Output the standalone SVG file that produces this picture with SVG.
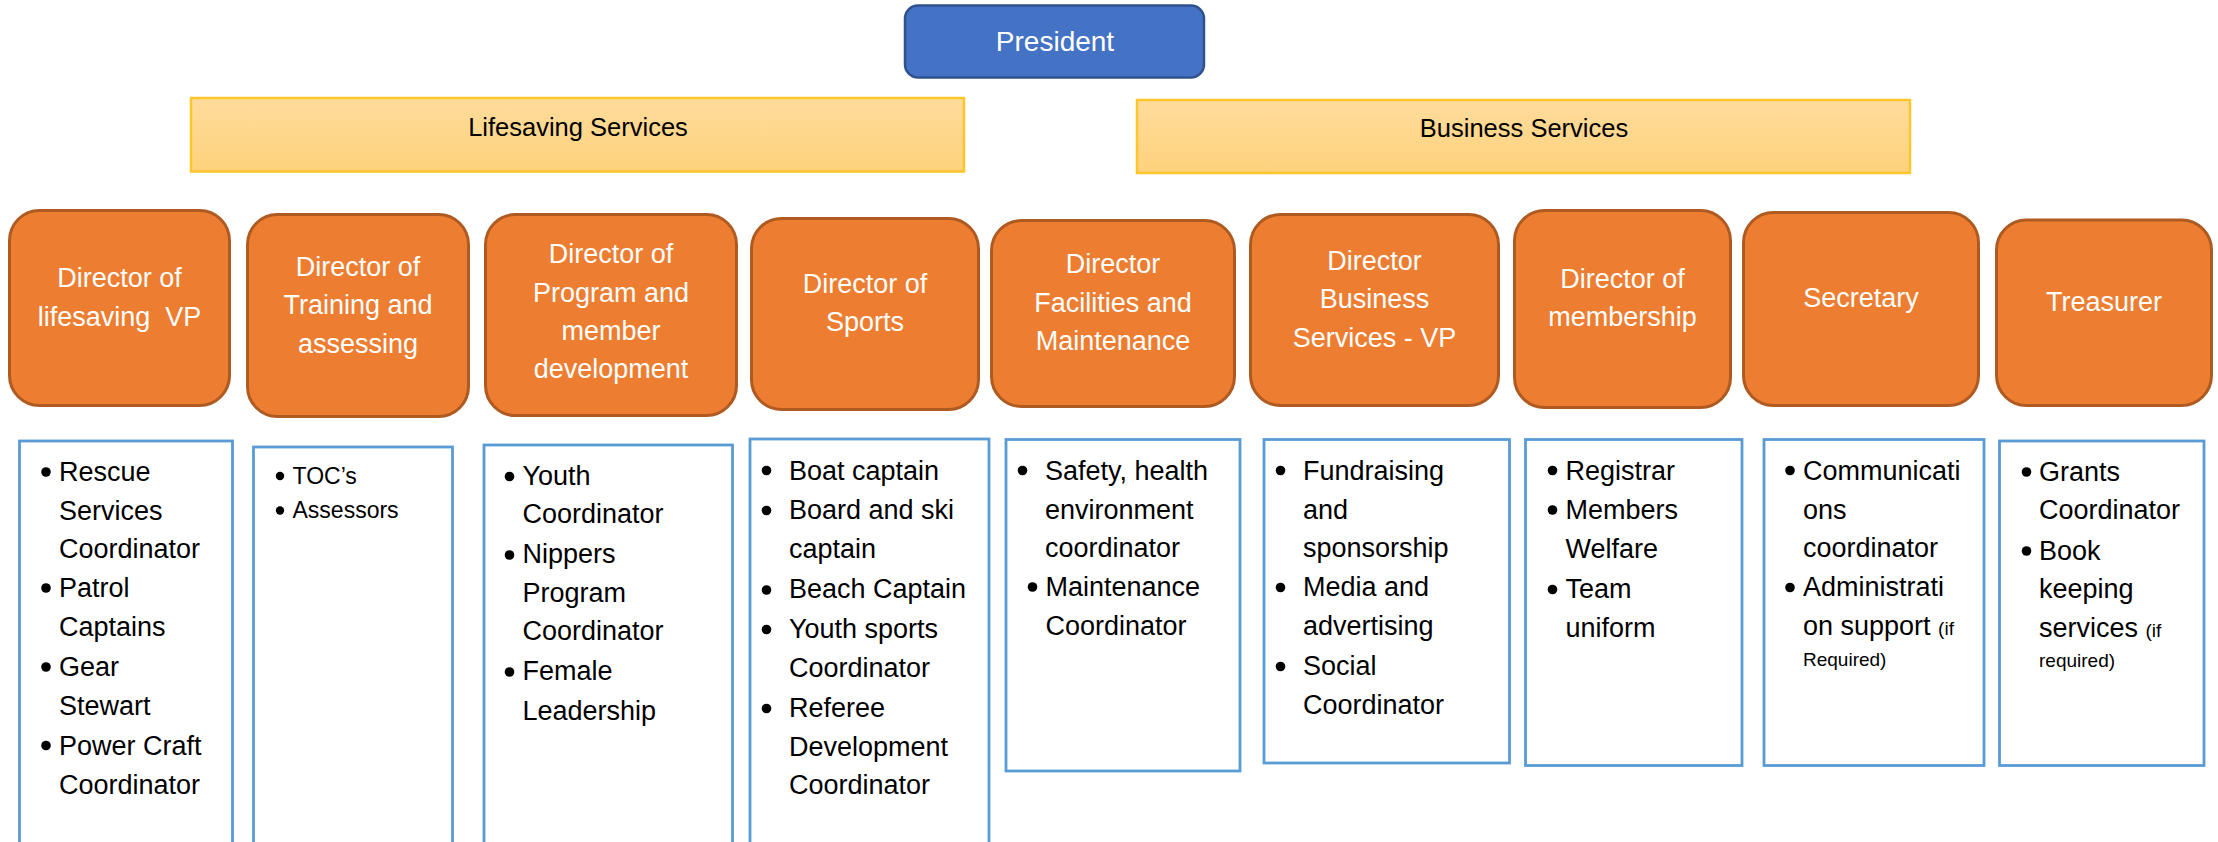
<svg xmlns="http://www.w3.org/2000/svg" width="2218" height="842" viewBox="0 0 2218 842">
  <defs>
    <linearGradient id="bandFill" x1="0" y1="0" x2="0" y2="1">
      <stop offset="0" stop-color="#FFDC9C"/>
      <stop offset="1" stop-color="#FED27C"/>
    </linearGradient>
    <style>
      .pres { fill: #4472C4; stroke: #2F528F; stroke-width: 2.5; }
      .band { fill: url(#bandFill); stroke: #FFC52A; stroke-width: 2.5; }
      .dir { fill: #ED7D31; stroke: #AE5A21; stroke-width: 3; }
      .list { fill: #FFFFFF; stroke: #5B9BD5; stroke-width: 2.8; }
      .wt { font-family: "Liberation Sans", Arial, sans-serif; font-size: 27px; fill: #FFFFFF; text-anchor: middle; white-space: pre; }
      .bt { font-family: "Liberation Sans", Arial, sans-serif; font-size: 25.5px; fill: #000000; text-anchor: middle; }
      .lt { font-family: "Liberation Sans", Arial, sans-serif; font-size: 27px; fill: #000000; }
      .lt2 { font-family: "Liberation Sans", Arial, sans-serif; font-size: 23px; fill: #000000; }
      .sm { font-size: 19px; }
      .dot { fill: #000000; }
    </style>
  </defs>

  <rect width="2218" height="842" fill="#FFFFFF"/>

  <!-- no drawn connectors in this chart -->
  <g id="connectors"/>

  <!-- top level -->
  <g id="president">
    <rect class="pres" x="905" y="5.5" width="299" height="72" rx="13"/>
    <text class="wt" x="1055" y="51" style="font-size:28px">President</text>
  </g>

  <!-- service bands -->
  <g id="band-lifesaving">
    <rect class="band" x="191" y="98" width="773" height="73.5"/>
    <text class="bt" x="578" y="136">Lifesaving Services</text>
  </g>
  <g id="band-business">
    <rect class="band" x="1137" y="100" width="773" height="73"/>
    <text class="bt" x="1524" y="137">Business Services</text>
  </g>

  <!-- director roles -->
  <g id="dir-lifesaving">
    <rect class="dir" x="9.5" y="210.5" width="220" height="195" rx="30"/>
    <text class="wt" x="119.5" y="287">Director of</text>
    <text class="wt" x="119.5" y="325.5" xml:space="preserve">lifesaving  VP</text>
  </g>
  <g id="dir-training">
    <rect class="dir" x="247.5" y="214.5" width="221" height="202" rx="30"/>
    <text class="wt" x="358" y="276">Director of</text>
    <text class="wt" x="358" y="314">Training and</text>
    <text class="wt" x="358" y="352.5">assessing</text>
  </g>
  <g id="dir-program">
    <rect class="dir" x="485.5" y="214.5" width="251" height="201" rx="30"/>
    <text class="wt" x="611" y="263">Director of</text>
    <text class="wt" x="611" y="302">Program and</text>
    <text class="wt" x="611" y="340">member</text>
    <text class="wt" x="611" y="377.5">development</text>
  </g>
  <g id="dir-sports">
    <rect class="dir" x="751.5" y="218.5" width="227" height="191" rx="30"/>
    <text class="wt" x="865" y="293">Director of</text>
    <text class="wt" x="865" y="331">Sports</text>
  </g>
  <g id="dir-facilities">
    <rect class="dir" x="991.5" y="220.5" width="243" height="186" rx="30"/>
    <text class="wt" x="1113" y="273">Director</text>
    <text class="wt" x="1113" y="312">Facilities and</text>
    <text class="wt" x="1113" y="350">Maintenance</text>
  </g>
  <g id="dir-business">
    <rect class="dir" x="1250.5" y="214.5" width="248" height="191" rx="30"/>
    <text class="wt" x="1374.5" y="270">Director</text>
    <text class="wt" x="1374.5" y="308">Business</text>
    <text class="wt" x="1374.5" y="346.5">Services - VP</text>
  </g>
  <g id="dir-membership">
    <rect class="dir" x="1514.5" y="210.5" width="216" height="197" rx="30"/>
    <text class="wt" x="1622.5" y="288">Director of</text>
    <text class="wt" x="1622.5" y="326">membership</text>
  </g>
  <g id="secretary">
    <rect class="dir" x="1743.5" y="212.5" width="235" height="193" rx="30"/>
    <text class="wt" x="1861" y="307">Secretary</text>
  </g>
  <g id="treasurer">
    <rect class="dir" x="1996.5" y="220" width="215" height="185.5" rx="30"/>
    <text class="wt" x="2104" y="311">Treasurer</text>
  </g>

  <!-- duty lists -->
  <g id="list-lifesaving">
    <rect class="list" x="19.5" y="441" width="213" height="430"/>
    <circle class="dot" cx="46" cy="472" r="4.8"/>
    <circle class="dot" cx="46" cy="588" r="4.8"/>
    <circle class="dot" cx="46" cy="667" r="4.8"/>
    <circle class="dot" cx="46" cy="745.5" r="4.8"/>
    <text class="lt" x="59" y="481">Rescue</text>
    <text class="lt" x="59" y="519.5">Services</text>
    <text class="lt" x="59" y="557.5">Coordinator</text>
    <text class="lt" x="59" y="597">Patrol</text>
    <text class="lt" x="59" y="635.5">Captains</text>
    <text class="lt" x="59" y="675.5">Gear</text>
    <text class="lt" x="59" y="714.5">Stewart</text>
    <text class="lt" x="59" y="754.5">Power Craft</text>
    <text class="lt" x="59" y="793.5">Coordinator</text>
  </g>
  <g id="list-training">
    <rect class="list" x="253.5" y="447" width="199" height="430"/>
    <circle class="dot" cx="280" cy="476" r="4.2"/>
    <circle class="dot" cx="280" cy="510.5" r="4.2"/>
    <text class="lt2" x="292.5" y="483.5">TOC’s</text>
    <text class="lt2" x="292.5" y="517.5">Assessors</text>
  </g>
  <g id="list-program">
    <rect class="list" x="484" y="445" width="248.5" height="430"/>
    <circle class="dot" cx="509.5" cy="476.5" r="4.8"/>
    <circle class="dot" cx="509.5" cy="555" r="4.8"/>
    <circle class="dot" cx="509.5" cy="672" r="4.8"/>
    <text class="lt" x="522.5" y="484.5">Youth</text>
    <text class="lt" x="522.5" y="522.5">Coordinator</text>
    <text class="lt" x="522.5" y="562.5">Nippers</text>
    <text class="lt" x="522.5" y="601.5">Program</text>
    <text class="lt" x="522.5" y="640">Coordinator</text>
    <text class="lt" x="522.5" y="680">Female</text>
    <text class="lt" x="522.5" y="719.5">Leadership</text>
  </g>
  <g id="list-sports">
    <rect class="list" x="750" y="439" width="239" height="430"/>
    <circle class="dot" cx="766.5" cy="470.5" r="4.8"/>
    <circle class="dot" cx="766.5" cy="510.5" r="4.8"/>
    <circle class="dot" cx="766.5" cy="590" r="4.8"/>
    <circle class="dot" cx="766.5" cy="629.5" r="4.8"/>
    <circle class="dot" cx="766.5" cy="708.5" r="4.8"/>
    <text class="lt" x="789" y="479.5">Boat captain</text>
    <text class="lt" x="789" y="518.5">Board and ski</text>
    <text class="lt" x="789" y="557.5">captain</text>
    <text class="lt" x="789" y="598">Beach Captain</text>
    <text class="lt" x="789" y="637.5">Youth sports</text>
    <text class="lt" x="789" y="676.5">Coordinator</text>
    <text class="lt" x="789" y="716.5">Referee</text>
    <text class="lt" x="789" y="756">Development</text>
    <text class="lt" x="789" y="793.5">Coordinator</text>
  </g>
  <g id="list-facilities">
    <rect class="list" x="1006" y="439.5" width="234" height="331.5"/>
    <circle class="dot" cx="1022.5" cy="470.5" r="4.8"/>
    <circle class="dot" cx="1032.5" cy="587" r="4.8"/>
    <text class="lt" x="1045" y="479.5">Safety, health</text>
    <text class="lt" x="1045" y="518.5">environment</text>
    <text class="lt" x="1045" y="556.5">coordinator</text>
    <text class="lt" x="1045.5" y="596">Maintenance</text>
    <text class="lt" x="1045.5" y="635">Coordinator</text>
  </g>
  <g id="list-business">
    <rect class="list" x="1264" y="439.5" width="245.5" height="323.5"/>
    <circle class="dot" cx="1280.5" cy="470.5" r="4.8"/>
    <circle class="dot" cx="1280.5" cy="587.5" r="4.8"/>
    <circle class="dot" cx="1280.5" cy="666.5" r="4.8"/>
    <text class="lt" x="1303" y="479.5">Fundraising</text>
    <text class="lt" x="1303" y="518.5">and</text>
    <text class="lt" x="1303" y="556.5">sponsorship</text>
    <text class="lt" x="1303" y="596">Media and</text>
    <text class="lt" x="1303" y="635">advertising</text>
    <text class="lt" x="1303" y="675">Social</text>
    <text class="lt" x="1303" y="714">Coordinator</text>
  </g>
  <g id="list-membership">
    <rect class="list" x="1525.5" y="439.5" width="216.5" height="326"/>
    <circle class="dot" cx="1552.5" cy="470.5" r="4.8"/>
    <circle class="dot" cx="1552.5" cy="510" r="4.8"/>
    <circle class="dot" cx="1552.5" cy="589.5" r="4.8"/>
    <text class="lt" x="1565.5" y="479.5">Registrar</text>
    <text class="lt" x="1565.5" y="518.5">Members</text>
    <text class="lt" x="1565.5" y="557.5">Welfare</text>
    <text class="lt" x="1565.5" y="597.5">Team</text>
    <text class="lt" x="1565.5" y="636.5">uniform</text>
  </g>
  <g id="list-secretary">
    <rect class="list" x="1764" y="439.5" width="220" height="326"/>
    <circle class="dot" cx="1790" cy="470.5" r="4.8"/>
    <circle class="dot" cx="1790" cy="587.5" r="4.8"/>
    <text class="lt" x="1803" y="479.5">Communicati</text>
    <text class="lt" x="1803" y="518.5">ons</text>
    <text class="lt" x="1803" y="556.5">coordinator</text>
    <text class="lt" x="1803" y="596">Administrati</text>
    <text class="lt" x="1803" y="635">on support <tspan class="sm">(if</tspan></text>
    <text class="lt sm" x="1803" y="666">Required)</text>
  </g>
  <g id="list-treasurer">
    <rect class="list" x="1999.5" y="441" width="204.5" height="324.5"/>
    <circle class="dot" cx="2026.5" cy="472" r="4.8"/>
    <circle class="dot" cx="2026.5" cy="551" r="4.8"/>
    <text class="lt" x="2039" y="481">Grants</text>
    <text class="lt" x="2039" y="519">Coordinator</text>
    <text class="lt" x="2039" y="559.5">Book</text>
    <text class="lt" x="2039" y="598">keeping</text>
    <text class="lt" x="2039" y="636.5">services <tspan class="sm">(if</tspan></text>
    <text class="lt sm" x="2039" y="667">required)</text>
  </g>
</svg>
